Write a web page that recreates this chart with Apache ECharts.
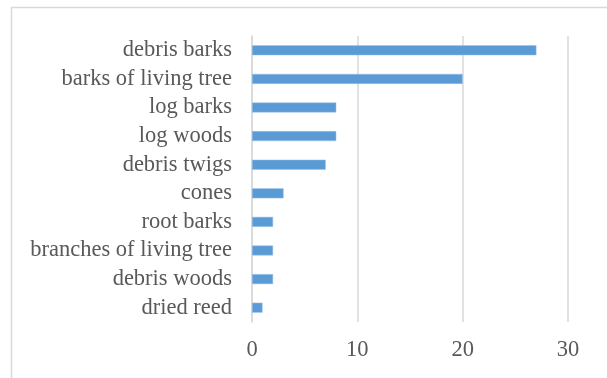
<!DOCTYPE html>
<html>
<head>
<meta charset="utf-8">
<script src="https://cdn.jsdelivr.net/npm/echarts@6/dist/echarts.min.js"></script>
<style>html,body{margin:0;padding:0;background:#fff}#c{width:607px;height:378px}</style>
</head>
<body>
<div id="c"></div>
<script>
const categories = ["debris barks","barks of living tree","log barks","log woods","debris twigs","cones","root barks","branches of living tree","debris woods","dried reed"];
const values = [27,20,8,8,7,3,2,2,2,1];
const xTicks = [0,10,20,30];

const chart = echarts.init(document.getElementById('c'), null, {renderer:'canvas'});
const font = '"Liberation Serif","Times New Roman",serif';
chart.setOption({
  animation:false,
  backgroundColor:'#fff',
  graphic:[{type:'rect',shape:{x:11.5,y:7.5,width:800,height:600},style:{fill:'none',stroke:'#d9d9d9',lineWidth:1.5},silent:true}],
  grid:{left:252,right:39,top:36,bottom:56},
  xAxis:{type:'value',min:xTicks[0],max:xTicks[xTicks.length-1],interval:10,
    axisLine:{show:false},axisTick:{show:false},
    splitLine:{show:true,lineStyle:{color:'#d9d9d9',width:1.5}},
    axisLabel:{color:'#595959',fontFamily:font,fontSize:22.5,margin:17}},
  yAxis:{type:'category',data:categories,inverse:true,
    axisLine:{show:true,lineStyle:{color:'#d9d9d9',width:1.5}},axisTick:{show:false},
    axisLabel:{color:'#595959',fontFamily:font,fontSize:22.5,margin:20,interval:0,hideOverlap:false}},
  series:[{type:'bar',data:values,barWidth:10,itemStyle:{color:'#5b9bd5',borderColor:'#9dc3e6',borderWidth:0.5}}]
});
</script>
</body>
</html>
